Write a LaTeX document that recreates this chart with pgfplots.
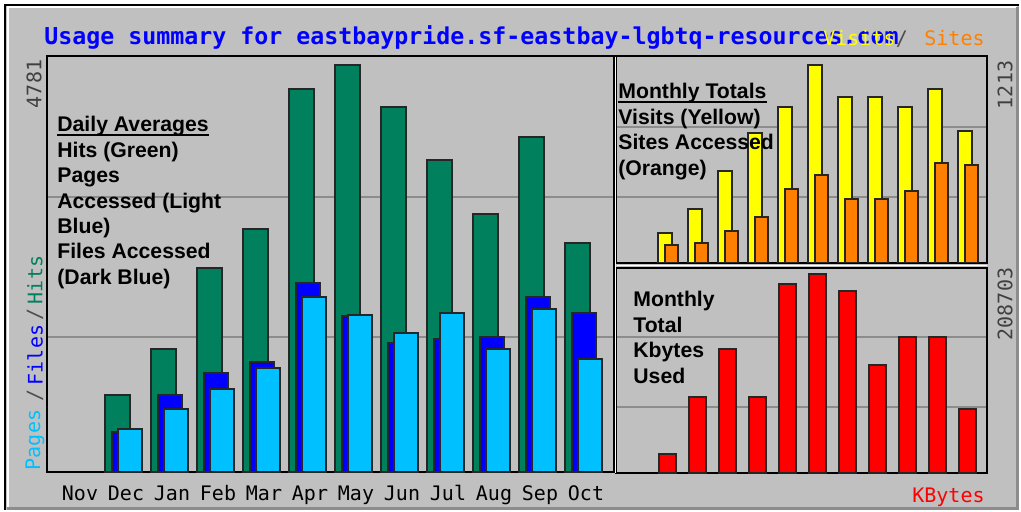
\documentclass[border=0pt]{standalone}
\usepackage{pgfplots}
\usepackage{pgfplotstable}
\pgfplotsset{compat=1.18}
\usepackage{fontspec}
\setmainfont{Liberation Sans}
\newfontfamily\monofont{DejaVu Sans Mono}
\definecolor{bg}{HTML}{C0C0C0}
\definecolor{hitc}{HTML}{00805C}
\definecolor{filec}{HTML}{0000FF}
\definecolor{pagec}{HTML}{00C0FF}
\definecolor{visitc}{HTML}{FFFF00}
\definecolor{sitec}{HTML}{FF8000}
\definecolor{kbc}{HTML}{FF0000}
\definecolor{gridc}{HTML}{8C8C8C}

% month index: Nov=0, Dec=1, ..., Oct=11
\pgfplotstableread{
m hits files pages
1  905  470  505
2  1445 905  740
3  2396 1163 975
4  2855 1292 1222
5  4499 2220 2056
6  4781 1833 1844
7  4288 1515 1633
8  3665 1562 1868
9  3031 1586 1445
10 3935 2056 1915
11 2690 1868 1327
}\daily

\pgfplotstableread{
m visits sites kbytes
1  184  110 19927
2  331  123 79709
3  564  196 130051
4  796  282 79709
5  956  453 198223
6  1213 539 208703
7  1017 392 190882
8  1017 392 113270
9  956  441 142637
10 1066 613 142637
11 809  600 67123
}\monthly

\pgfplotsset{
  panel/.style={
    scale only axis,
    axis line style={black, line width=0.9pt},
    major tick length=0pt,
    ymajorgrids,
    grid style={gridc, line width=0.7pt},
    yticklabels={},
    scaled y ticks=false,
    ymin=0,
  },
  barstyle/.style={ybar, draw=black!85, line width=0.9pt, bar shift=0pt},
}

\newcommand\mono{\monofont\fontsize{10}{12}\selectfont}
\newcommand\legfont{\bfseries\fontsize{10.6}{12.75}\selectfont}

\begin{document}
\begin{tikzpicture}
\begin{scope}[x=0.5pt, y=-0.5pt]
\useasboundingbox (0,0) rectangle (1021,512);
\fill[white] (0,0) rectangle (1021,512);
\fill[bg] (5,5) rectangle (1019,510);
\draw[black, line width=1pt] (5,510) -- (5,5) -- (1019,5);
\draw[white, line width=1pt] (7.5,508) -- (7.5,7.5) -- (1017,7.5);
\draw[black!45, line width=1.5pt] (1017.5,7) -- (1017.5,508.5) -- (7,508.5);
\end{scope}

% ---- left panel: daily averages ----
\begin{axis}[panel,
  at={(23.5pt,-236pt)}, anchor=south west,
  width=283.5pt, height=208pt,
  xmin=-0.5326, xmax=11.7935, ymax=4887,
  ytick={1586,3230},
  xtick={0,...,11},
  xticklabels={Nov,Dec,Jan,Feb,Mar,Apr,May,Jun,Jul,Aug,Sep,Oct},
  x tick label style={font=\mono, anchor=mid, xshift=4.25pt, yshift=-11.5pt, inner sep=0pt},
]
\addplot[barstyle, fill=hitc, bar width=12.6pt] table[x=m, y=hits] {\daily};
\addplot[barstyle, fill=filec, bar width=12.1pt, bar shift=3.25pt] table[x=m, y=files] {\daily};
\addplot[barstyle, fill=pagec, bar width=12.1pt, bar shift=6.25pt] table[x=m, y=pages] {\daily};
\end{axis}

% ---- top right: visits / sites ----
\begin{axis}[panel,
  at={(308pt,-131.5pt)}, anchor=south west,
  width=185.5pt, height=103.5pt,
  xmin=-0.6333, xmax=11.7333, ymax=1268,
  ytick={404,833}, xtick=\empty,
]
\addplot[barstyle, fill=visitc, bar width=7.1pt] table[x=m, y=visits] {\monthly};
\addplot[barstyle, fill=sitec, bar width=6.6pt, bar shift=3.25pt] table[x=m, y=sites] {\monthly};
\end{axis}

% ---- bottom right: kbytes ----
\begin{axis}[panel,
  at={(308pt,-236.5pt)}, anchor=south west,
  width=185.5pt, height=102.5pt,
  xmin=-0.6333, xmax=11.7333, ymax=215000,
  ytick={69221,142637}, xtick=\empty,
]
\addplot[barstyle, fill=kbc, bar width=8.6pt, bar shift=1.25pt] table[x=m, y=kbytes] {\monthly};
\end{axis}

\begin{scope}[x=0.5pt, y=-0.5pt]
\draw[white, line width=0.6pt] (615.2,57) -- (615.2,473);
\draw[white, line width=0.6pt] (617,265.5) -- (987,265.5);
% ---- titles and labels ----
\node[anchor=base west, inner sep=0pt, text=filec, font=\monofont\bfseries\fontsize{11.63}{14}\selectfont]
  at (44,45) {Usage summary for eastbaypride.sf-eastbay-lgbtq-resources.com};
\node[anchor=base east, inner sep=0pt, text=visitc, font=\mono] at (896,46) {Visits};
\node[anchor=base, inner sep=0pt, text=black!70, font=\mono] at (902,46) {/};
\node[anchor=base east, inner sep=0pt, text=sitec, font=\mono] at (985,46) {Sites};

\node[rotate=90, inner sep=0pt, text=pagec, font=\mono] at (35,440) {Pages};
\node[rotate=90, inner sep=0pt, text=black!70, font=\mono] at (35,395) {/};
\node[rotate=90, inner sep=0pt, text=filec, font=\mono] at (35,355) {Files};
\node[rotate=90, inner sep=0pt, text=black!70, font=\mono] at (35,314) {/};
\node[rotate=90, inner sep=0pt, text=hitc, font=\mono] at (35,280) {Hits};

\node[rotate=90, inner sep=0pt, text=black!75, font=\mono] at (34,84) {4781};
\node[rotate=90, inner sep=0pt, text=black!75, font=\mono] at (1005,85) {1213};
\node[rotate=90, inner sep=0pt, text=black!75, font=\mono] at (1005,304) {208703};

\node[anchor=base east, inner sep=0pt, text=kbc, font=\mono] at (985,502) {KBytes};

% legend texts
\node[anchor=base west, inner sep=0pt, font=\legfont] (da) at (57,132) {Daily Averages};
\draw[line width=1pt] ([yshift=-1.6pt]da.base west) -- ([yshift=-1.6pt]da.base east);
\node[anchor=base west, inner sep=0pt, font=\legfont] at (57,157.4) {Hits (Green)};
\node[anchor=base west, inner sep=0pt, font=\legfont] at (57,182.8) {Pages};
\node[anchor=base west, inner sep=0pt, font=\legfont] at (57,208.2) {Accessed (Light};
\node[anchor=base west, inner sep=0pt, font=\legfont] at (57,233.6) {Blue)};
\node[anchor=base west, inner sep=0pt, font=\legfont] at (57,259) {Files Accessed};
\node[anchor=base west, inner sep=0pt, font=\legfont] at (57,284.4) {(Dark Blue)};

\node[anchor=base west, inner sep=0pt, font=\legfont] (mt) at (618,99) {Monthly Totals};
\draw[line width=1pt] ([yshift=-1.6pt]mt.base west) -- ([yshift=-1.6pt]mt.base east);
\node[anchor=base west, inner sep=0pt, font=\legfont] at (618,124.5) {Visits (Yellow)};
\node[anchor=base west, inner sep=0pt, font=\legfont] at (618,150) {Sites Accessed};
\node[anchor=base west, inner sep=0pt, font=\legfont] at (618,175.5) {(Orange)};

\node[anchor=base west, inner sep=0pt, font=\legfont] at (633,307) {Monthly};
\node[anchor=base west, inner sep=0pt, font=\legfont] at (633,332.5) {Total};
\node[anchor=base west, inner sep=0pt, font=\legfont] at (633,358) {Kbytes};
\node[anchor=base west, inner sep=0pt, font=\legfont] at (633,383.5) {Used};
\end{scope}
\end{tikzpicture}
\end{document}
